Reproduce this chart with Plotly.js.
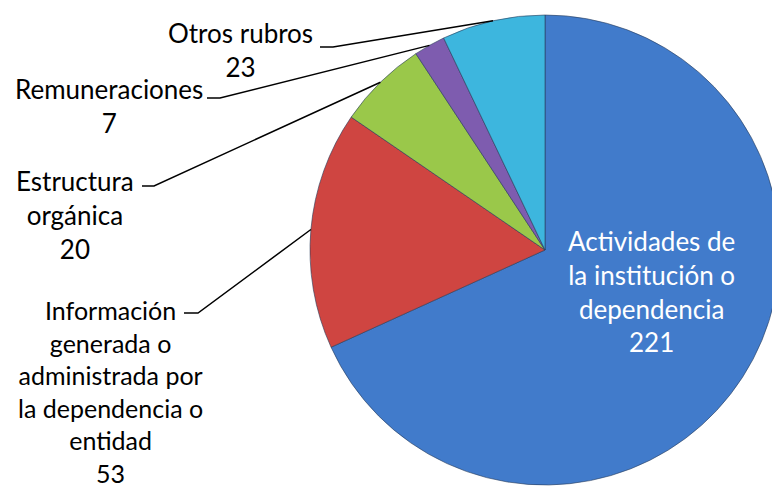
<!DOCTYPE html>
<html>
<head>
<meta charset="utf-8">
<script src="https://cdn.plot.ly/plotly-3.0.1.min.js"></script>
<style>
html,body{margin:0;padding:0;overflow:hidden;background:#fff;}
#chart{width:790px;height:493px;}
</style>
</head>
<body>
<div id="chart"></div>
<script>
// Data
const categories = [
  "Actividades de la institución o dependencia",
  "Información generada o administrada por la dependencia o entidad",
  "Estructura orgánica",
  "Remuneraciones",
  "Otros rubros"
];
const values = [221, 53, 20, 7, 23];
const labelTexts = [
  "Actividades de<br>la institución o<br>dependencia<br>221",
  "Información<br>generada o<br>administrada por<br>la dependencia o<br>entidad<br>53",
  "Estructura<br>orgánica<br>20",
  "Remuneraciones<br>7",
  "Otros rubros<br>23"
];
const colors = ["#417BCB", "#CF4541", "#9AC84A", "#7E5CAF", "#3DB6DE"];

// Layout geometry (pixels)
const W = 790, H = 493;
const cx = 545, cy = 250, R = 235;
const px = x => x / W;
const py = y => 1 - y / H;

// label placement: [text center x, text center y, leader start x, leader start y, elbow x, font size]
const labelPos = [
  null,
  [110, 391, 184, 313, 198, 25],
  [75, 215, 142, 186, 154, 26],
  [109, 106, 207, 98, 220, 26],
  [240, 50, 320, 47, 333, 26]
];

const fontFam = "Lato, 'Open Sans', sans-serif";
const total = values.reduce((a, b) => a + b, 0);
const annotations = [];
const shapes = [];
let cum = 0;
values.forEach((v, i) => {
  const mid = (cum + v / 2) / total * 2 * Math.PI;
  cum += v;
  const ex = cx + Math.sin(mid) * R;
  const ey = cy - Math.cos(mid) * R;
  if (i === 0) {
    annotations.push({
      x: px(651), y: py(291), xref: "paper", yref: "paper",
      xanchor: "center", yanchor: "middle",
      text: labelTexts[i], showarrow: false, align: "center",
      font: {family: fontFam, size: 26, color: "#ffffff"}
    });
  } else {
    const p = labelPos[i];
    annotations.push({
      x: px(p[0]), y: py(p[1]), xref: "paper", yref: "paper",
      xanchor: "center", yanchor: "middle",
      text: labelTexts[i], showarrow: false, align: "center",
      font: {family: fontFam, size: p[5], color: "#000000"}
    });
    shapes.push({
      type: "path", xref: "paper", yref: "paper",
      path: `M ${px(p[2])} ${py(p[3])} L ${px(p[4])} ${py(p[3])} L ${px(ex)} ${py(ey)}`,
      line: {color: "#000000", width: 1.5}
    });
  }
});

const trace = {
  type: "pie",
  labels: categories,
  values: values,
  sort: false,
  direction: "clockwise",
  rotation: 0,
  textinfo: "none",
  hoverinfo: "label+value",
  marker: {colors: colors, line: {color: "rgba(40,60,90,0.6)", width: 1}},
  domain: {x: [(cx - R) / W, (cx + R) / W], y: [(H - cy - R) / H, (H - cy + R) / H]},
  showlegend: false
};

const layout = {
  width: W, height: H,
  margin: {l: 0, r: 0, t: 0, b: 0},
  paper_bgcolor: "#ffffff",
  showlegend: false,
  annotations: annotations,
  shapes: shapes
};

Plotly.newPlot("chart", [trace], layout, {displayModeBar: false, staticPlot: true});
</script>
</body>
</html>
